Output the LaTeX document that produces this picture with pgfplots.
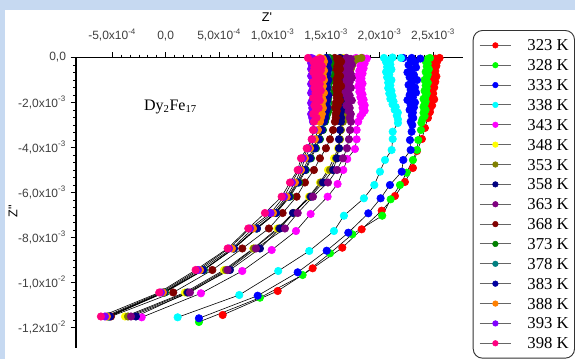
\documentclass[border=0pt]{standalone}
\usepackage{fontspec}
\setmainfont{Liberation Serif}
\newfontfamily\arialf{Liberation Sans}
\usepackage{pgfplots}
\usepackage{pgfplotstable}
\pgfplotsset{compat=1.18}
\definecolor{bgblue}{HTML}{C6D9F1}
\definecolor{c323}{HTML}{FF0000}
\definecolor{c328}{HTML}{00FF00}
\definecolor{c333}{HTML}{0000FF}
\definecolor{c338}{HTML}{00FFFF}
\definecolor{c343}{HTML}{FF00FF}
\definecolor{c348}{HTML}{FFFF00}
\definecolor{c353}{HTML}{808000}
\definecolor{c358}{HTML}{000080}
\definecolor{c363}{HTML}{800080}
\definecolor{c368}{HTML}{800000}
\definecolor{c373}{HTML}{008000}
\definecolor{c378}{HTML}{008080}
\definecolor{c383}{HTML}{0000A0}
\definecolor{c388}{HTML}{FF8000}
\definecolor{c393}{HTML}{8000FF}
\definecolor{c398}{HTML}{FF0080}
\pgfplotsset{ser/.style={black, line width=0.45pt, mark=*, mark size=2.8pt, mark options={draw=#1, fill=#1}}}

% left group: Z'' (zz) and Z' of each temperature
\pgfplotstableread{
zz pin vio ora roy tea dgr mar nav yel pur oli
-0.02e-3 1.33e-3 1.36e-3 1.44e-3 1.50e-3 1.51e-3 1.53e-3 1.58e-3 1.63e-3 1.66e-3 1.69e-3 1.83e-3
-0.06e-3 1.45e-3 1.38e-3 1.47e-3 1.49e-3 1.49e-3 1.52e-3 1.62e-3 1.65e-3 1.64e-3 1.73e-3 1.79e-3
-0.111e-3 1.41e-3 1.37e-3 1.46e-3 1.51e-3 1.50e-3 1.51e-3 1.59e-3 1.64e-3 1.65e-3 1.70e-3 1.76e-3
-0.18e-3 1.38e-3 1.39e-3 1.48e-3 1.52e-3 1.52e-3 1.53e-3 1.64e-3 1.62e-3 1.67e-3 1.67e-3 1.74e-3
-0.244e-3 1.44e-3 1.36e-3 1.45e-3 1.50e-3 1.51e-3 1.54e-3 1.60e-3 1.64e-3 1.65e-3 1.72e-3 1.75e-3
-0.31e-3 1.40e-3 1.38e-3 1.47e-3 1.49e-3 1.49e-3 1.52e-3 1.57e-3 1.66e-3 1.64e-3 1.74e-3 1.73e-3
-0.378e-3 1.46e-3 1.37e-3 1.46e-3 1.51e-3 1.50e-3 1.51e-3 1.62e-3 1.63e-3 1.66e-3 1.70e-3 1.74e-3
-0.44e-3 1.39e-3 1.40e-3 1.44e-3 1.50e-3 1.48e-3 1.53e-3 1.60e-3 1.65e-3 1.65e-3 1.68e-3 1.72e-3
-0.511e-3 1.42e-3 1.36e-3 1.47e-3 1.52e-3 1.51e-3 1.52e-3 1.63e-3 1.64e-3 1.63e-3 1.72e-3 1.73e-3
-0.58e-3 1.45e-3 1.38e-3 1.48e-3 1.49e-3 1.50e-3 1.50e-3 1.58e-3 1.62e-3 1.65e-3 1.71e-3 1.71e-3
-0.644e-3 1.38e-3 1.39e-3 1.45e-3 1.50e-3 1.52e-3 1.52e-3 1.61e-3 1.64e-3 1.66e-3 1.67e-3 1.72e-3
-0.73e-3 1.43e-3 1.37e-3 1.46e-3 1.51e-3 1.49e-3 1.54e-3 1.59e-3 1.65e-3 1.64e-3 1.73e-3 1.70e-3
-0.822e-3 1.40e-3 1.36e-3 1.47e-3 1.49e-3 1.50e-3 1.53e-3 1.63e-3 1.63e-3 1.65e-3 1.70e-3 1.71e-3
-0.91e-3 1.46e-3 1.38e-3 1.45e-3 1.50e-3 1.51e-3 1.51e-3 1.60e-3 1.66e-3 1.67e-3 1.74e-3 1.69e-3
-1.0e-3 1.41e-3 1.40e-3 1.48e-3 1.52e-3 1.49e-3 1.52e-3 1.57e-3 1.64e-3 1.66e-3 1.69e-3 1.70e-3
-1.09e-3 1.38e-3 1.37e-3 1.46e-3 1.51e-3 1.50e-3 1.53e-3 1.62e-3 1.62e-3 1.64e-3 1.72e-3 1.71e-3
-1.178e-3 1.44e-3 1.36e-3 1.44e-3 1.49e-3 1.48e-3 1.51e-3 1.60e-3 1.65e-3 1.65e-3 1.68e-3 1.69e-3
-1.27e-3 1.42e-3 1.39e-3 1.47e-3 1.50e-3 1.51e-3 1.52e-3 1.64e-3 1.63e-3 1.63e-3 1.71e-3 1.70e-3
-1.356e-3 1.39e-3 1.38e-3 1.45e-3 1.51e-3 1.50e-3 1.50e-3 1.59e-3 1.64e-3 1.65e-3 1.73e-3 1.68e-3
-1.47e-3 1.45e-3 1.37e-3 1.46e-3 1.50e-3 1.49e-3 1.52e-3 1.61e-3 1.66e-3 1.66e-3 1.70e-3 1.69e-3
-1.578e-3 1.40e-3 1.36e-3 1.48e-3 1.49e-3 1.51e-3 1.53e-3 1.58e-3 1.63e-3 1.64e-3 1.67e-3 1.70e-3
-1.69e-3 1.43e-3 1.38e-3 1.45e-3 1.52e-3 1.50e-3 1.51e-3 1.62e-3 1.64e-3 1.65e-3 1.72e-3 1.68e-3
-1.8e-3 1.38e-3 1.39e-3 1.46e-3 1.50e-3 1.48e-3 1.52e-3 1.60e-3 1.65e-3 1.66e-3 1.70e-3 1.69e-3
-1.91e-3 1.44e-3 1.37e-3 1.47e-3 1.51e-3 1.50e-3 1.50e-3 1.63e-3 1.63e-3 1.64e-3 1.74e-3 1.70e-3
-2.022e-3 1.41e-3 1.36e-3 1.44e-3 1.49e-3 1.51e-3 1.52e-3 1.59e-3 1.64e-3 1.65e-3 1.71e-3 1.68e-3
-2.13e-3 1.39e-3 1.38e-3 1.46e-3 1.50e-3 1.49e-3 1.51e-3 1.61e-3 1.62e-3 1.66e-3 1.69e-3 1.69e-3
-2.244e-3 1.43e-3 1.37e-3 1.47e-3 1.51e-3 1.50e-3 1.50e-3 1.58e-3 1.65e-3 1.64e-3 1.72e-3 1.70e-3
-2.38e-3 1.40e-3 1.39e-3 1.45e-3 1.50e-3 1.49e-3 1.52e-3 1.60e-3 1.64e-3 1.65e-3 1.71e-3 1.68e-3
-2.511e-3 1.38e-3 1.36e-3 1.46e-3 1.49e-3 1.48e-3 1.51e-3 1.59e-3 1.63e-3 1.65e-3 1.73e-3 1.68e-3
-2.68e-3 1.41e-3 1.37e-3 1.45e-3 1.49e-3 1.48e-3 1.50e-3 1.59e-3 1.64e-3 1.65e-3 1.72e-3 1.67e-3
-2.853e-3 1.386e-3 1.377e-3 1.442e-3 1.479e-3 1.470e-3 1.489e-3 1.582e-3 1.638e-3 1.648e-3 1.732e-3 1.657e-3
-3.222e-3 1.377e-3 1.386e-3 1.423e-3 1.461e-3 1.451e-3 1.470e-3 1.564e-3 1.629e-3 1.638e-3 1.723e-3 1.638e-3
-3.635e-3 1.365e-3 1.367e-3 1.395e-3 1.433e-3 1.423e-3 1.442e-3 1.536e-3 1.620e-3 1.629e-3 1.713e-3 1.629e-3
-4.035e-3 1.318e-3 1.330e-3 1.349e-3 1.395e-3 1.377e-3 1.405e-3 1.498e-3 1.620e-3 1.610e-3 1.694e-3 1.620e-3
-4.48e-3 1.265e-3 1.283e-3 1.302e-3 1.349e-3 1.339e-3 1.358e-3 1.442e-3 1.601e-3 1.573e-3 1.657e-3 1.592e-3
-5.0e-3 1.234e-3 1.246e-3 1.265e-3 1.302e-3 1.283e-3 1.311e-3 1.386e-3 1.564e-3 1.517e-3 1.601e-3 1.536e-3
-5.555e-3 1.162e-3 1.180e-3 1.208e-3 1.236e-3 1.227e-3 1.246e-3 1.302e-3 1.470e-3 1.442e-3 1.517e-3 1.451e-3
-6.186e-3 1.084e-3 1.106e-3 1.131e-3 1.152e-3 1.143e-3 1.162e-3 1.224e-3 1.358e-3 1.339e-3 1.377e-3 1.349e-3
-6.911e-3 0.928e-3 0.981e-3 1.003e-3 1.031e-3 1.022e-3 1.031e-3 1.093e-3 1.190e-3 1.193e-3 1.234e-3 1.199e-3
-7.599e-3 0.772e-3 0.788e-3 0.816e-3 0.853e-3 0.844e-3 0.853e-3 0.965e-3 1.068e-3 1.043e-3 1.115e-3 1.059e-3
-8.488e-3 0.579e-3 0.592e-3 0.620e-3 0.638e-3 0.632e-3 0.638e-3 0.716e-3 0.881e-3 0.819e-3 0.844e-3 0.825e-3
-9.444e-3 0.280e-3 0.302e-3 0.321e-3 0.349e-3 0.351e-3 0.358e-3 0.436e-3 0.601e-3 0.545e-3 0.579e-3 0.564e-3
-10.443e-3 -0.060e-3 -0.044e-3 -0.025e-3 -0.016e-3 -0.022e-3 -0.007e-3 0.071e-3 0.208e-3 0.180e-3 0.227e-3 0.199e-3
-11.51e-3 -0.605e-3 -0.567e-3 -0.549e-3 -0.521e-3 -0.539e-3 -0.530e-3 -0.511e-3 -0.278e-3 -0.380e-3 -0.324e-3 -0.352e-3
}\lefttab

\begin{document}
\begin{tikzpicture}
\useasboundingbox (0,0) rectangle (431.25pt,-269.25pt);
\fill[bgblue] (0,0) rectangle (431.25pt,-269.25pt);
\fill[white] (3.75pt,-7.5pt) rectangle (431.25pt,-269.25pt);
\begin{axis}[
  at={(57pt,-43.125pt)}, anchor=north west,
  scale only axis, width=290.25pt, height=217.875pt,
  xmin=-0.838e-3, xmax=2.779e-3, ymin=-12.91e-3, ymax=0,
  axis x line=top, axis y line=left,
  axis line style={-, line width=0.8pt, black},
  x axis line style={-}, y axis line style={-},
  tick align=outside, major tick length=4pt, minor tick length=2.2pt,
  every tick/.style={black, line width=0.6pt},
  minor x tick num=5, minor y tick num=5,
  xtick={-0.5e-3,0,0.5e-3,1e-3,1.5e-3,2e-3,2.5e-3},
  xticklabels={{-5,0x10\textsuperscript{-4}},{0,0},{5,0x10\textsuperscript{-4}},{1,0x10\textsuperscript{-3}},{1,5x10\textsuperscript{-3}},{2,0x10\textsuperscript{-3}},{2,5x10\textsuperscript{-3}}},
  ytick={-12e-3,-10e-3,-8e-3,-6e-3,-4e-3,-2e-3,0},
  yticklabels={{-1,2x10\textsuperscript{-2}},{-1,0x10\textsuperscript{-2}},{-8,0x10\textsuperscript{-3}},{-6,0x10\textsuperscript{-3}},{-4,0x10\textsuperscript{-3}},{-2,0x10\textsuperscript{-3}},{0,0}},
  scaled ticks=false,
  tick label style={font=\arialf\fontsize{9}{10}\selectfont, text=black!75},
  x tick label style={yshift=4.5pt},
  xlabel={Z\textquotesingle}, ylabel={Z\textquotedbl},
  every axis x label/.style={at={(rel axis cs:0.4935,1)}, anchor=center, yshift=30.4pt, font=\arialf\fontsize{9.5}{10}\selectfont},
  every axis y label/.style={at={(rel axis cs:0,0.4716)}, anchor=center, xshift=-47.25pt, rotate=90, font=\arialf\fontsize{9.5}{10}\selectfont},
  clip=false,
  legend cell align=left,
  legend style={at={(1,1)}, anchor=north west, xshift=7.3pt, yshift=20.6pt,
    draw=black!80, line width=0.7pt, rounded corners=7pt, fill=white,
    inner xsep=4.4pt, inner ysep=7pt, row sep=6.6pt, column sep=11.8pt,
    font=\fontsize{12.5}{13}\selectfont, nodes={inner sep=0pt, text depth=0pt}},
  legend image code/.code={
    \draw[black!60, line width=0.7pt] (0pt,0pt) -- (23.8pt,0pt);
    \draw[#1, mark size=2.1pt, line width=0.4pt] plot coordinates {(11.9pt,0pt)};
  },
]
\addplot[ser=c323] coordinates {(2.56e-3,-0.02e-3)(2.52e-3,-0.05e-3)(2.54e-3,-0.15e-3)(2.51e-3,-0.25e-3)(2.53e-3,-0.37e-3)(2.50e-3,-0.48e-3)(2.52e-3,-0.6e-3)(2.49e-3,-0.72e-3)(2.53e-3,-0.84e-3)(2.50e-3,-0.96e-3)(2.52e-3,-1.08e-3)(2.49e-3,-1.2e-3)(2.51e-3,-1.33e-3)(2.48e-3,-1.46e-3)(2.50e-3,-1.6e-3)(2.49e-3,-1.73e-3)(2.51e-3,-1.86e-3)(2.48e-3,-2.0e-3)(2.49e-3,-2.13e-3)(2.47e-3,-2.27e-3)(2.47e-3,-2.42e-3)(2.45e-3,-2.56e-3)(2.451e-3,-2.689e-3)(2.423e-3,-3.133e-3)(2.395e-3,-3.622e-3)(2.349e-3,-4.155e-3)(2.311e-3,-4.911e-3)(2.236e-3,-5.533e-3)(2.143e-3,-6.155e-3)(2.019e-3,-6.808e-3)(1.832e-3,-7.635e-3)(1.651e-3,-8.453e-3)(1.374e-3,-9.368e-3)(1.047e-3,-10.377e-3)(0.533e-3,-11.443e-3)};
\addlegendentry{323 K}
\addplot[ser=c328] coordinates {(2.47e-3,-0.02e-3)(2.45e-3,-0.06e-3)(2.43e-3,-0.17e-3)(2.45e-3,-0.28e-3)(2.44e-3,-0.4e-3)(2.46e-3,-0.52e-3)(2.43e-3,-0.64e-3)(2.45e-3,-0.76e-3)(2.44e-3,-0.88e-3)(2.42e-3,-1.0e-3)(2.45e-3,-1.12e-3)(2.43e-3,-1.24e-3)(2.44e-3,-1.36e-3)(2.42e-3,-1.48e-3)(2.44e-3,-1.6e-3)(2.43e-3,-1.72e-3)(2.41e-3,-1.84e-3)(2.43e-3,-1.96e-3)(2.42e-3,-2.08e-3)(2.41e-3,-2.2e-3)(2.43e-3,-2.33e-3)(2.41e-3,-2.46e-3)(2.42e-3,-2.6e-3)(2.40e-3,-2.75e-3)(2.39e-3,-2.9e-3)(2.386e-3,-3.222e-3)(2.361e-3,-3.667e-3)(2.349e-3,-4.111e-3)(2.311e-3,-4.555e-3)(2.252e-3,-5.12e-3)(2.19e-3,-5.666e-3)(2.103e-3,-6.302e-3)(2.024e-3,-7.031e-3)(1.744e-3,-7.857e-3)(1.536e-3,-8.701e-3)(1.28e-3,-9.666e-3)(0.881e-3,-10.675e-3)(0.311e-3,-11.754e-3)};
\addlegendentry{328 K}
\addplot[ser=c333] coordinates {(2.22e-3,-0.02e-3)(2.30e-3,-0.02e-3)(2.38e-3,-0.05e-3)(2.29e-3,-0.12e-3)(2.33e-3,-0.22e-3)(2.27e-3,-0.33e-3)(2.34e-3,-0.44e-3)(2.30e-3,-0.55e-3)(2.26e-3,-0.66e-3)(2.32e-3,-0.77e-3)(2.28e-3,-0.88e-3)(2.35e-3,-1.0e-3)(2.30e-3,-1.11e-3)(2.27e-3,-1.22e-3)(2.33e-3,-1.33e-3)(2.29e-3,-1.44e-3)(2.34e-3,-1.56e-3)(2.28e-3,-1.67e-3)(2.31e-3,-1.78e-3)(2.26e-3,-1.89e-3)(2.33e-3,-2.0e-3)(2.29e-3,-2.11e-3)(2.32e-3,-2.22e-3)(2.28e-3,-2.33e-3)(2.31e-3,-2.45e-3)(2.30e-3,-2.58e-3)(2.314e-3,-2.689e-3)(2.29e-3,-2.85e-3)(2.305e-3,-3.0e-3)(2.299e-3,-3.298e-3)(2.283e-3,-3.667e-3)(2.29e-3,-4.111e-3)(2.221e-3,-4.555e-3)(2.206e-3,-5.075e-3)(2.096e-3,-5.666e-3)(2.009e-3,-6.257e-3)(1.894e-3,-6.924e-3)(1.707e-3,-7.786e-3)(1.505e-3,-8.586e-3)(1.234e-3,-9.546e-3)(0.86e-3,-10.586e-3)(0.311e-3,-11.59e-3)};
\addlegendentry{333 K}
\addplot[ser=c338] coordinates {(2.04e-3,-0.02e-3)(2.12e-3,0.0)(2.20e-3,-0.02e-3)(2.10e-3,-0.1e-3)(2.06e-3,-0.2e-3)(2.10e-3,-0.31e-3)(2.07e-3,-0.42e-3)(2.11e-3,-0.53e-3)(2.06e-3,-0.64e-3)(2.09e-3,-0.76e-3)(2.07e-3,-0.88e-3)(2.11e-3,-1.0e-3)(2.08e-3,-1.12e-3)(2.10e-3,-1.24e-3)(2.08e-3,-1.36e-3)(2.11e-3,-1.48e-3)(2.09e-3,-1.6e-3)(2.12e-3,-1.72e-3)(2.10e-3,-1.84e-3)(2.13e-3,-1.96e-3)(2.12e-3,-2.08e-3)(2.15e-3,-2.2e-3)(2.14e-3,-2.32e-3)(2.17e-3,-2.45e-3)(2.16e-3,-2.58e-3)(2.171e-3,-2.75e-3)(2.171e-3,-2.911e-3)(2.122e-3,-3.298e-3)(2.122e-3,-3.622e-3)(2.112e-3,-4.111e-3)(2.05e-3,-4.555e-3)(2.003e-3,-5.075e-3)(1.95e-3,-5.666e-3)(1.853e-3,-6.257e-3)(1.666e-3,-7.031e-3)(1.573e-3,-7.711e-3)(1.342e-3,-8.599e-3)(1.052e-3,-9.488e-3)(0.688e-3,-10.555e-3)(0.112e-3,-11.546e-3)};
\addlegendentry{338 K}
\addplot[ser=c343] coordinates {(1.78e-3,-0.02e-3)(1.84e-3,-0.02e-3)(1.88e-3,-0.05e-3)(1.83e-3,-0.15e-3)(1.86e-3,-0.26e-3)(1.82e-3,-0.37e-3)(1.85e-3,-0.48e-3)(1.81e-3,-0.6e-3)(1.84e-3,-0.71e-3)(1.80e-3,-0.82e-3)(1.83e-3,-0.93e-3)(1.81e-3,-1.05e-3)(1.84e-3,-1.16e-3)(1.80e-3,-1.28e-3)(1.83e-3,-1.4e-3)(1.81e-3,-1.52e-3)(1.84e-3,-1.64e-3)(1.82e-3,-1.76e-3)(1.85e-3,-1.88e-3)(1.83e-3,-2.0e-3)(1.86e-3,-2.12e-3)(1.84e-3,-2.24e-3)(1.86e-3,-2.36e-3)(1.84e-3,-2.48e-3)(1.82e-3,-2.62e-3)(1.80e-3,-2.853e-3)(1.785e-3,-3.222e-3)(1.785e-3,-3.635e-3)(1.769e-3,-4.066e-3)(1.697e-3,-4.511e-3)(1.66e-3,-5.0e-3)(1.607e-3,-5.622e-3)(1.514e-3,-6.186e-3)(1.355e-3,-6.955e-3)(1.218e-3,-7.711e-3)(0.991e-3,-8.555e-3)(0.716e-3,-9.488e-3)(0.33e-3,-10.479e-3)(-0.224e-3,-11.546e-3)};
\addlegendentry{343 K}
\addplot[ser=c348] table[x=yel, y=zz] {\lefttab};
\addlegendentry{348 K}
\addplot[ser=c353] table[x=oli, y=zz] {\lefttab};
\addlegendentry{353 K}
\addplot[ser=c358] table[x=nav, y=zz] {\lefttab};
\addlegendentry{358 K}
\addplot[ser=c363] table[x=pur, y=zz] {\lefttab};
\addlegendentry{363 K}
\addplot[ser=c368] table[x=mar, y=zz] {\lefttab};
\addlegendentry{368 K}
\addplot[ser=c373] table[x=dgr, y=zz] {\lefttab};
\addlegendentry{373 K}
\addplot[ser=c378] table[x=tea, y=zz] {\lefttab};
\addlegendentry{378 K}
\addplot[ser=c383] table[x=roy, y=zz] {\lefttab};
\addlegendentry{383 K}
\addplot[ser=c388] table[x=ora, y=zz] {\lefttab};
\addlegendentry{388 K}
\addplot[ser=c393] table[x=vio, y=zz] {\lefttab};
\addlegendentry{393 K}
\addplot[ser=c398] table[x=pin, y=zz] {\lefttab};
\addlegendentry{398 K}
\node[font=\fontsize{12}{12}\selectfont] at (axis cs:0.045e-3,-2.2e-3) {Dy\textsubscript{2}Fe\textsubscript{17}};
\end{axis}
\end{tikzpicture}
\end{document}
